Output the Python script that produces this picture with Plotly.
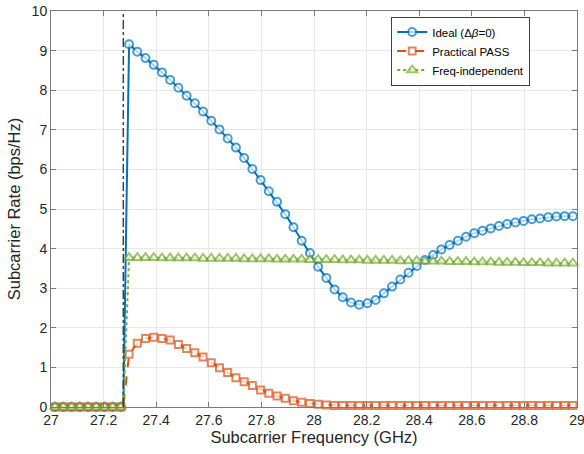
import plotly.graph_objects as go

# Subcarrier centre frequencies (GHz), 64 subcarriers over 27-29 GHz
freq = [27.01563, 27.04688, 27.07813, 27.10938, 27.14063, 27.17188, 27.20313, 27.23438,
        27.26563, 27.29688, 27.32813, 27.35938, 27.39063, 27.42188, 27.45313, 27.48438,
        27.51563, 27.54688, 27.57813, 27.60938, 27.64063, 27.67188, 27.70313, 27.73438,
        27.76563, 27.79688, 27.82813, 27.85938, 27.89063, 27.92188, 27.95313, 27.98438,
        28.01563, 28.04688, 28.07813, 28.10938, 28.14063, 28.17188, 28.20313, 28.23438,
        28.26563, 28.29688, 28.32813, 28.35938, 28.39063, 28.42188, 28.45313, 28.48438,
        28.51563, 28.54688, 28.57813, 28.60938, 28.64063, 28.67188, 28.70313, 28.73438,
        28.76563, 28.79688, 28.82813, 28.85938, 28.89063, 28.92188, 28.95313, 28.98438]
cutoff = 27.275   # cut-off frequency (dash-dot line)
n_below = 9       # subcarriers below cut-off

ideal = [0, 0, 0, 0, 0, 0, 0, 0, 0,
         9.16, 8.97, 8.81, 8.64, 8.45, 8.26, 8.06, 7.86, 7.67, 7.46,
         7.23, 7.01, 6.78, 6.55, 6.29, 6.01, 5.73, 5.45, 5.18, 4.87,
         4.54, 4.20, 3.89, 3.54, 3.26, 2.97, 2.77, 2.64, 2.58, 2.62,
         2.70, 2.87, 3.04, 3.22, 3.39, 3.56, 3.71, 3.84, 3.98, 4.09,
         4.20, 4.30, 4.39, 4.45, 4.51, 4.57, 4.62, 4.66, 4.70, 4.74,
         4.76, 4.79, 4.81, 4.82, 4.82]
practical = [0, 0, 0, 0, 0, 0, 0, 0, 0,
             1.33, 1.61, 1.73, 1.76, 1.73, 1.69, 1.58, 1.48, 1.37, 1.26,
             1.12, 0.99, 0.87, 0.74, 0.64, 0.54, 0.43, 0.35, 0.28, 0.22,
             0.16, 0.12, 0.09, 0.07, 0.05, 0.04, 0.04, 0.04, 0.04, 0.04,
             0.04, 0.04, 0.04, 0.04, 0.04, 0.04, 0.04, 0.04, 0.04, 0.04,
             0.04, 0.04, 0.04, 0.04, 0.04, 0.04, 0.04, 0.04, 0.04, 0.04,
             0.04, 0.04, 0.04, 0.04, 0.04]
freq_indep = [0, 0, 0, 0, 0, 0, 0, 0, 0,
              3.77, 3.77, 3.77, 3.77, 3.76, 3.76, 3.76, 3.76, 3.76, 3.75,
              3.75, 3.75, 3.75, 3.75, 3.74, 3.74, 3.74, 3.74, 3.73, 3.73,
              3.73, 3.73, 3.72, 3.72, 3.72, 3.72, 3.71, 3.71, 3.71, 3.70,
              3.70, 3.70, 3.70, 3.69, 3.69, 3.69, 3.68, 3.68, 3.68, 3.67,
              3.67, 3.67, 3.66, 3.66, 3.66, 3.65, 3.65, 3.65, 3.64, 3.64,
              3.64, 3.63, 3.63, 3.63, 3.63]

names = ["Ideal (Δ<i>β</i>=0)", "Practical PASS", "Freq-independent"]
colors = ["#0072BD", "#D95319", "#77AC30"]
dashes = ["solid", "dash", "dot"]
symbols = ["circle", "square", "triangle-up"]
msizes = [8, 7, 9]

FONT = "Liberation Sans, Arial, sans-serif"
fig = go.Figure()

for name, ys, col, dsh, sym, ms in zip(names, [ideal, practical, freq_indep],
                                       colors, dashes, symbols, msizes):
    x = freq[:n_below] + [cutoff] + freq[n_below:]
    y = ys[:n_below] + [0] + ys[n_below:]
    sizes = [ms] * n_below + [0] + [ms] * (len(freq) - n_below)
    lws = [2] * n_below + [0] + [2] * (len(freq) - n_below)
    fig.add_trace(go.Scatter(
        x=x, y=y, name=name, mode="lines+markers", cliponaxis=False,
        line=dict(color=col, width=2, dash=dsh),
        marker=dict(symbol=sym, size=sizes, color="white",
                    line=dict(color=col, width=lws)),
    ))

fig.add_shape(type="line", xref="x", yref="paper", x0=cutoff, x1=cutoff, y0=0, y1=1,
              line=dict(color="#404040", width=1.5, dash="dashdot"))

axis_common = dict(showline=True, linecolor="#7a7a7a", linewidth=1, mirror="ticks",
                   ticks="inside", ticklen=5, tickcolor="#7a7a7a", automargin=False,
                   ticklabeloverflow="allow",
                   showgrid=True, gridcolor="#e8e8e8", gridwidth=1, zeroline=False,
                   tickfont=dict(family=FONT, size=14, color="#262626"))

fig.update_xaxes(range=[27, 29], dtick=0.2, tick0=27,
                 title=dict(text="Subcarrier Frequency (GHz)", standoff=4,
                            font=dict(family=FONT, size=16.5, color="#262626")),
                 **axis_common)
fig.update_yaxes(range=[0, 10], dtick=1, tick0=0,
                 title=dict(text="Subcarrier Rate (bps/Hz)", standoff=6,
                            font=dict(family=FONT, size=16.5, color="#262626")),
                 **axis_common)

fig.update_layout(
    width=584, height=454,
    margin=dict(l=51, r=7, t=11, b=47),
    plot_bgcolor="white", paper_bgcolor="white",
    showlegend=True,
    legend=dict(x=0.911, y=0.986, xanchor="right", yanchor="top",
                bgcolor="white", bordercolor="#404040", borderwidth=1,
                font=dict(family=FONT, size=11.5, color="#000000"),
                itemwidth=30, tracegroupgap=0),
)

fig.write_html("out.html")
